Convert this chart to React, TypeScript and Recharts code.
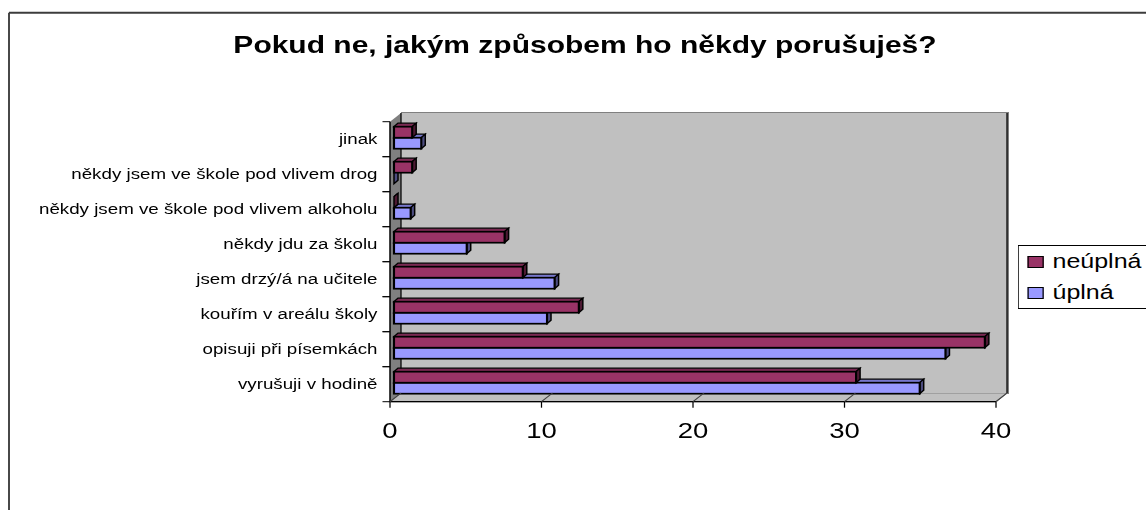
import React from "react";
import { BarChart, Bar, XAxis, YAxis, CartesianGrid, Legend } from "recharts";

// categories listed bottom -> top, as in the source sheet
const categories = [
  "vyrušuji v hodině",
  "opisuji při písemkách",
  "kouřím v areálu školy",
  "jsem drzý/á na učitele",
  "někdy jdu za školu",
  "někdy jsem ve škole pod vlivem alkoholu",
  "někdy jsem ve škole pod vlivem drog",
  "jinak",
];
const neuplnaValues = [30.5, 39, 12.2, 8.5, 7.3, 0, 1.2, 1.2];
const uplnaValues = [34.7, 36.4, 10.1, 10.6, 4.8, 1.1, 0, 1.8];
const xTicks = [0, 10, 20, 30, 40];
const seriesNames = ["neúplná", "úplná"];

const data = categories.map((name, i) => ({
  name,
  neuplna: neuplnaValues[i],
  uplna: uplnaValues[i],
}));

const FONT = '"Liberation Sans", Arial, sans-serif';

// the old picture is stretched sideways, so we draw narrow and scale x
const SX = 1.25;
const W = 917;
const H = 510;
const FRONT = { left: 312, top: 121.7, right: 796.8, bottom: 401.7 };
const DX = 8.8;
const DY = -8.7;
const BACK = { left: FRONT.left + DX, top: FRONT.top + DY, right: FRONT.right + DX, bottom: FRONT.bottom + DY };
const BAND = (FRONT.bottom - FRONT.top) / categories.length;
const X_AXIS_H = 50;
const BAR_H = 11;

const colors = {
  neuplna: { face: "#993366", top: "#7a2952", side: "#4d1a33" },
  uplna: { face: "#9999ff", top: "#7777cc", side: "#4d4d80" },
};

const make3DBar = (c: { face: string; top: string; side: string }) => (props: any) => {
  const { x, y, width, height } = props;
  const w = Math.max(width || 0, 0);
  const bx = x + 3.2;
  const by = y - 2;
  const cx = 3.2;
  const cy = -3.5;
  return (
    <g>
      <polygon
        points={`${bx},${by} ${bx + w},${by} ${bx + w + cx},${by + cy} ${bx + cx},${by + cy}`}
        fill={c.top}
        stroke="#000"
        strokeWidth={1.2}
      />
      <polygon
        points={`${bx + w},${by} ${bx + w + cx},${by + cy} ${bx + w + cx},${by + height + cy} ${bx + w},${by + height}`}
        fill={c.side}
        stroke="#000"
        strokeWidth={1.2}
      />
      <rect x={bx} y={by} width={w} height={height} fill={c.face} stroke="#000" strokeWidth={1.7} />
    </g>
  );
};

const XTick = (props: any) => {
  const { x, y, payload } = props;
  const axisY = y - 21;
  return (
    <g>
      <line x1={x} y1={axisY} x2={x + DX} y2={axisY + DY} stroke="#404040" strokeWidth={1} />
      <text x={x} y={y} dy="0.71em" textAnchor="middle" fontSize={22} fontFamily={FONT} fill="#000">
        {payload.value}
      </text>
    </g>
  );
};

const YTick = (props: any) => {
  const { x, y, payload } = props;
  return (
    <g>
      <line x1={x + 4} y1={y - BAND / 2} x2={x + 10} y2={y - BAND / 2} stroke="#000" strokeWidth={1} />
      <line x1={x + 4} y1={y + BAND / 2} x2={x + 10} y2={y + BAND / 2} stroke="#000" strokeWidth={1} />
      <text x={x} y={y} dy="0.35em" textAnchor="end" fontSize={15} fontFamily={FONT} fill="#000">
        {payload.value}
      </text>
    </g>
  );
};

const LegendBox = () => (
  <div
    style={{
      border: "1px solid #000",
      background: "#fff",
      height: 64,
      boxSizing: "border-box",
      fontFamily: FONT,
      fontSize: 20,
    }}
  >
    {seriesNames.map((s, i) => (
      <div key={s} style={{ height: 31, display: "flex", alignItems: "center", paddingLeft: 7 }}>
        <span
          style={{
            width: 11,
            height: 10,
            border: "1.5px solid #000",
            background: i === 0 ? colors.neuplna.face : colors.uplna.face,
            marginRight: 7,
            display: "inline-block",
          }}
        />
        <span>{s}</span>
      </div>
    ))}
  </div>
);

export default function App() {
  return (
    <div style={{ position: "absolute", left: 0, top: 0, width: 1146, height: 510, overflow: "hidden", background: "#fff" }}>
      <div style={{ position: "relative", width: W, height: H, transform: `scaleX(${SX})`, transformOrigin: "0 0" }}>
        <svg width={W} height={H} style={{ position: "absolute", left: 0, top: 0 }}>
          <line x1={7.2} y1={12.7} x2={W} y2={12.7} stroke="#3c3c3c" strokeWidth={2} />
          <line x1={7.2} y1={12.7} x2={7.2} y2={H} stroke="#3c3c3c" strokeWidth={1.5} />
          <text x={468} y={53} textAnchor="middle" fontSize={24} fontWeight="bold" fontFamily={FONT} fill="#000">
            Pokud ne, jakým způsobem ho někdy porušuješ?
          </text>
          <rect x={BACK.left} y={BACK.top - 1} width={BACK.right - BACK.left + 1.6} height={BACK.bottom - BACK.top + 2} fill="#808080" />
          <polygon
            points={`${FRONT.left},${FRONT.top} ${BACK.left},${BACK.top} ${BACK.left},${BACK.bottom} ${FRONT.left},${FRONT.bottom}`}
            fill="#808080"
          />
          <polygon
            points={`${FRONT.left},${FRONT.bottom} ${BACK.left},${BACK.bottom} ${BACK.right},${BACK.bottom} ${FRONT.right},${FRONT.bottom}`}
            fill="#c0c0c0"
            stroke="#808080"
            strokeWidth={1}
          />
        </svg>
        <div style={{ position: "absolute", left: 0, top: 0 }}>
          <BarChart
            width={W}
            height={H}
            data={data}
            layout="vertical"
            margin={{ top: BACK.top, left: BACK.left, right: W - BACK.right, bottom: H - BACK.bottom }}
          >
            <CartesianGrid horizontal={false} stroke="#000" fill="#c0c0c0" fillOpacity={1} />
            <XAxis type="number" domain={[0, 40]} ticks={xTicks.slice(1, -1)} hide />
            <YAxis type="category" dataKey="name" hide reversed />
          </BarChart>
        </div>
        <div style={{ position: "absolute", left: 0, top: 0 }}>
          <BarChart
            width={W}
            height={H}
            data={data}
            layout="vertical"
            barSize={BAR_H}
            barGap={-2 * BAR_H}
            margin={{ top: FRONT.top, right: W - FRONT.right, bottom: H - FRONT.bottom - X_AXIS_H, left: 0 }}
          >
            <XAxis
              type="number"
              domain={[0, 40]}
              ticks={xTicks}
              interval={0}
              height={X_AXIS_H}
              axisLine={{ stroke: "#000", strokeWidth: 1.2 }}
              tickLine={{ stroke: "#000" }}
              tickSize={6}
              tickMargin={15}
              tick={(p: any) => <XTick {...p} />}
            />
            <YAxis
              type="category"
              dataKey="name"
              reversed
              interval={0}
              width={FRONT.left}
              axisLine={{ stroke: "#000", strokeWidth: 1.2 }}
              tickLine={false}
              tickSize={6}
              tickMargin={4}
              tick={(p: any) => <YTick {...p} />}
            />
            <Legend
              layout="vertical"
              align="center"
              verticalAlign="middle"
              content={() => <LegendBox />}
              wrapperStyle={{ left: 814, top: 245, width: 130, height: 64 }}
            />
            <Bar dataKey="uplna" name="úplná" shape={make3DBar(colors.uplna)} isAnimationActive={false} />
            <Bar dataKey="neuplna" name="neúplná" shape={make3DBar(colors.neuplna)} isAnimationActive={false} />
          </BarChart>
        </div>
      </div>
    </div>
  );
}
